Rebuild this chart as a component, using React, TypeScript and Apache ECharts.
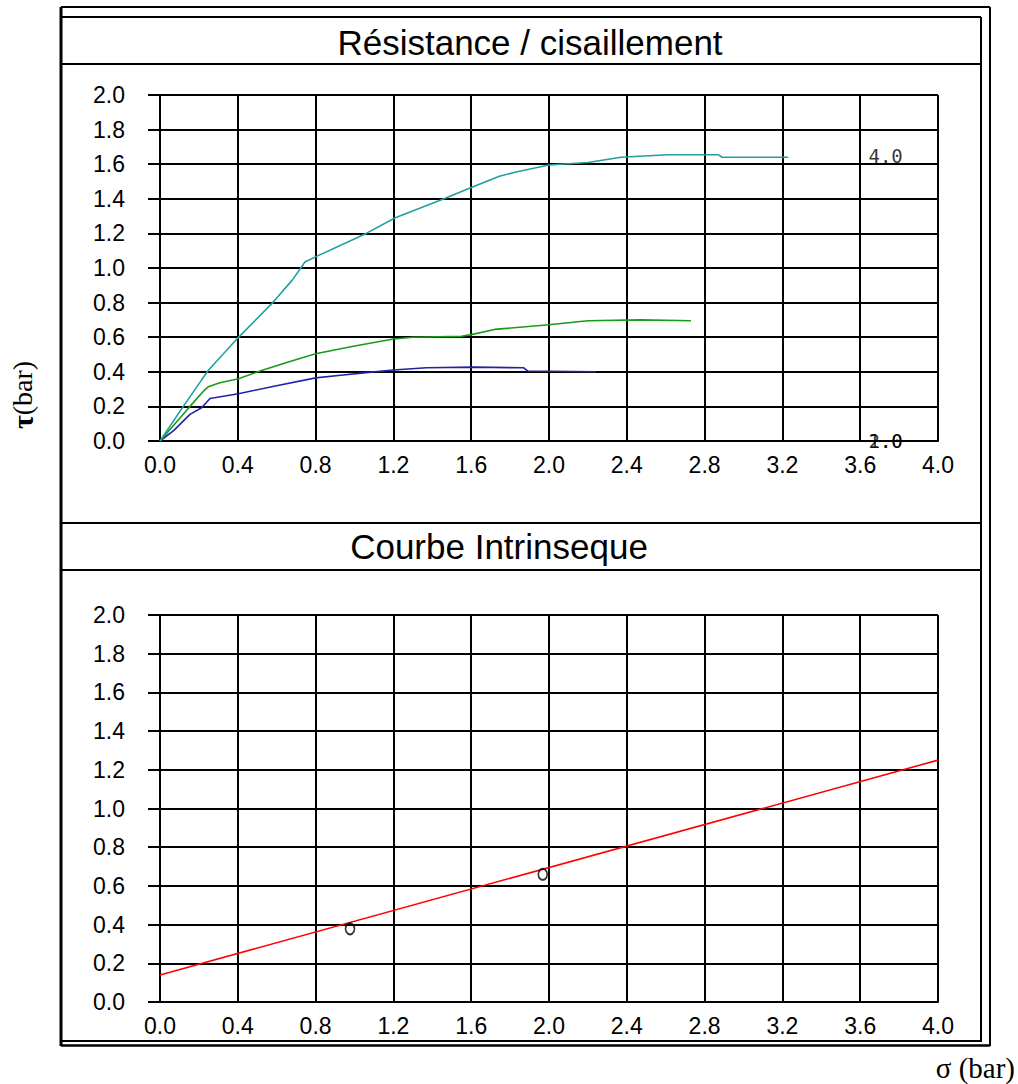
import { useEffect, useRef } from "react";
import * as echarts from "echarts";

// Shear test curves: tau (bar) against horizontal displacement, one per normal stress
const curveNames = ["1.0", "2.0", "4.0"];

const blueX = [0, 0.07, 0.154, 0.214, 0.257, 0.403, 0.58, 0.8, 0.93, 1.06, 1.2, 1.37, 1.61, 1.87, 1.89, 2.24];
const blueY = [0, 0.06, 0.154, 0.192, 0.246, 0.273, 0.315, 0.365, 0.38, 0.395, 0.41, 0.423, 0.427, 0.423, 0.405, 0.4];

const greenX = [0, 0.154, 0.223, 0.248, 0.308, 0.403, 0.514, 0.668, 0.8, 0.994, 1.2, 1.3, 1.55, 1.6, 1.72, 2.0, 2.2, 2.47, 2.73];
const greenY = [0, 0.2, 0.288, 0.313, 0.337, 0.36, 0.404, 0.46, 0.504, 0.548, 0.59, 0.6, 0.605, 0.615, 0.645, 0.672, 0.695, 0.7, 0.695];

const tealX = [0, 0.12, 0.215, 0.25, 0.4, 0.58, 0.68, 0.745, 0.81, 1.06, 1.21, 1.46, 1.61, 1.745, 1.83, 2.0, 2.2, 2.37, 2.61, 2.87, 2.89, 3.23];
const tealY = [0, 0.2, 0.355, 0.41, 0.595, 0.8, 0.93, 1.035, 1.07, 1.2, 1.29, 1.4, 1.47, 1.53, 1.555, 1.595, 1.61, 1.64, 1.655, 1.655, 1.64, 1.64];

// Curve tags drawn at the right of the upper plot
const tagX = [3.64, 3.64, 3.64];
const tagY = [0, 0, 1.65];

// Intrinsic curve: peak points and fitted line
const peakSigma = [0.977, 1.968];
const peakTau = [0.378, 0.66];
const lineSigma = [0, 4.0];
const lineTau = [0.14, 1.25];

const zip = (xs: number[], ys: number[]) => xs.map((x, i) => [x, ys[i]]);

const LABEL_FONT = "Liberation Sans";

function makeAxes(gridIndex: number) {
  const x = {
    type: "value",
    gridIndex,
    min: 0,
    max: 4,
    interval: 0.4,
    axisLine: { show: true, lineStyle: { color: "#000", width: 2 } },
    axisTick: { show: false },
    splitLine: { show: true, lineStyle: { color: "#000", width: 2 } },
    axisLabel: {
      color: "#000",
      fontFamily: LABEL_FONT,
      fontSize: 23,
      margin: 12,
      formatter: (v: number) => v.toFixed(1),
    },
  };
  const y = {
    type: "value",
    gridIndex,
    min: 0,
    max: 2,
    interval: 0.2,
    axisLine: { show: true, lineStyle: { color: "#000", width: 2 } },
    axisTick: { show: true, length: 12, lineStyle: { color: "#000", width: 2 } },
    splitLine: { show: true, lineStyle: { color: "#000", width: 2 } },
    axisLabel: {
      color: "#000",
      fontFamily: LABEL_FONT,
      fontSize: 23,
      margin: 35,
      formatter: (v: number) => v.toFixed(1),
    },
  };
  return { x, y };
}

function frameLine(x1: number, y1: number, x2: number, y2: number, w = 2) {
  return {
    type: "line",
    shape: { x1, y1, x2, y2 },
    style: { stroke: "#000", lineWidth: w },
    z: 100,
  };
}

export default function App() {
  const ref = useRef<HTMLDivElement>(null);

  useEffect(() => {
    document.body.style.margin = "0";
    if (!ref.current) return;
    const chart = echarts.init(ref.current, undefined, { renderer: "svg" });

    const top = makeAxes(0);
    const bottom = makeAxes(1);

    const lineSeries = (name: string, xs: number[], ys: number[], color: string, axisIndex: number) => ({
      name,
      type: "line",
      xAxisIndex: axisIndex,
      yAxisIndex: axisIndex,
      data: zip(xs, ys),
      symbol: "none",
      lineStyle: { color, width: 1.6 },
      z: 5,
    });

    chart.setOption({
      animation: false,
      backgroundColor: "#fff",
      grid: [
        { left: 160, top: 95, width: 778, height: 346 },
        { left: 160, top: 615, width: 778, height: 387 },
      ],
      xAxis: [top.x, bottom.x],
      yAxis: [top.y, bottom.y],
      series: [
        lineSeries(curveNames[0], blueX, blueY, "#2222a8", 0),
        lineSeries(curveNames[1], greenX, greenY, "#1a9a1a", 0),
        lineSeries(curveNames[2], tealX, tealY, "#22a0a0", 0),
        {
          type: "scatter",
          xAxisIndex: 0,
          yAxisIndex: 0,
          symbolSize: 1,
          itemStyle: { color: "transparent" },
          data: curveNames.map((n, i) => [tagX[i], tagY[i], n]),
          label: {
            show: true,
            position: "right",
            distance: 0,
            color: "#000",
            fontFamily: "DejaVu Sans Mono",
            fontSize: 19,
            formatter: (p: any) => p.data[2],
          },
          z: 6,
        },
        {
          type: "line",
          xAxisIndex: 1,
          yAxisIndex: 1,
          data: zip(lineSigma, lineTau),
          symbol: "none",
          lineStyle: { color: "#ff0000", width: 1.6 },
          z: 5,
        },
        {
          type: "scatter",
          xAxisIndex: 1,
          yAxisIndex: 1,
          data: zip(peakSigma, peakTau),
          symbol: "circle",
          symbolSize: [9, 11],
          itemStyle: { color: "rgba(0,0,0,0)", borderColor: "#000", borderWidth: 1.8 },
          z: 6,
        },
      ],
      graphic: [
        // outer frame and section bands
        frameLine(61, 7, 61, 1046, 3),
        frameLine(61, 7, 990, 7),
        frameLine(990, 7, 990, 1046),
        frameLine(981, 17, 981, 1042),
        frameLine(61, 1041, 981, 1041),
        frameLine(61, 1045.5, 990, 1045.5, 2.5),
        frameLine(61, 17, 981, 17),
        frameLine(61, 64, 981, 64),
        frameLine(61, 523, 981, 523),
        frameLine(61, 570, 981, 570),
        {
          type: "text",
          x: 530,
          y: 42,
          style: {
            text: "Résistance / cisaillement",
            fill: "#000",
            font: `35px "${LABEL_FONT}"`,
            align: "center",
            verticalAlign: "middle",
          },
        },
        {
          type: "text",
          x: 499,
          y: 546,
          style: {
            text: "Courbe Intrinseque",
            fill: "#000",
            font: `35px "${LABEL_FONT}"`,
            align: "center",
            verticalAlign: "middle",
          },
        },
        {
          type: "text",
          x: 22,
          y: 395,
          rotation: Math.PI / 2,
          style: {
            text: "{t|τ}{b|(bar)}",
            align: "center",
            verticalAlign: "middle",
            rich: {
              t: { font: `bold 30px "Liberation Serif"`, fill: "#000" },
              b: { font: `28px "Liberation Serif"`, fill: "#000" },
            },
          },
        },
        {
          type: "text",
          x: 1015,
          y: 1068,
          style: {
            text: "σ (bar)",
            fill: "#000",
            font: `29px "Liberation Serif"`,
            align: "right",
            verticalAlign: "middle",
          },
        },
      ],
    });

    return () => chart.dispose();
  }, []);

  return <div ref={ref} style={{ width: 1018, height: 1084 }} />;
}
